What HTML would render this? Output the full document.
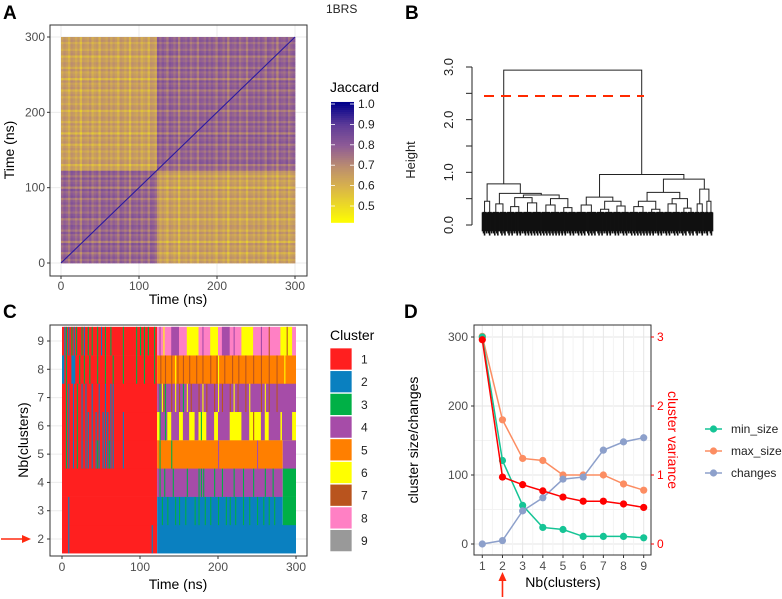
<!DOCTYPE html>
<html><head><meta charset="utf-8"><style>
body{margin:0;background:#fff;}
svg{display:block;font-family:"Liberation Sans",sans-serif;}
</style></head><body>
<svg id="fig" width="782" height="599" viewBox="0 0 782 599" xmlns="http://www.w3.org/2000/svg">
<rect x="0" y="0" width="782" height="599" fill="#fff"/>
<text x="3" y="19" font-size="19" font-weight="bold">A</text>
<text x="405" y="19" font-size="19" font-weight="bold">B</text>
<text x="3" y="318" font-size="19" font-weight="bold">C</text>
<text x="404" y="318" font-size="19" font-weight="bold">D</text>
<text x="326" y="13" font-size="12" fill="#222">1BRS</text>
<g id="pA"></g>
<g id="pB"></g>
<g id="pC"></g>
<g id="pD"></g>
</svg>
<script>
// ---------- DATA ----------
// Panel A
const blockBounds = [0, 122, 300];
const withinValue = 0.78;
const betweenValue = 0.65;
const rowNoise = [0.02,-0.05,0.04,0.0,-0.09,0.05,0.01,-0.03,0.06,-0.12,0.03,0.0,-0.04,0.05,-0.07,0.02,0.04,-0.02,0.0,-0.1,0.05,0.03,-0.05,0.01];
const colNoise = [-0.03,0.04,0.0,-0.08,0.05,0.02,-0.04,0.03,-0.11,0.04,0.01,-0.02,0.05,-0.06,0.0,0.03,-0.09,0.04,0.02,-0.03,0.05];
const noiseScale = 0.55;
const jaccardTicks = [0.5,0.6,0.7,0.8,0.9,1.0];
const timeTicks = [0,100,200,300];
// Panel B
const dendroTree = [2.94,
  [0.78, [0.45, 5, 5], [0.60, [0.40, 7, 7], [0.57, [0.52, [0.35, 8, 8], [0.42, 9, 9]], [0.50, [0.38, 9, 9], [0.33, 8, 8]]]]],
  [0.96, [0.53, [0.38, 10, 10], [0.45, [0.30, 8, 8], [0.36, 8, 8]]],
         [0.87, [0.62, [0.45, [0.35, 9, 9], [0.30, 8, 8]], [0.50, [0.40, 8, 8], [0.32, 7, 7]]], [0.68, [0.40, 5, 5], [0.45, 4, 4]]]]];
const cutHeight = 2.45;
const heightTicks = [0.0,0.5,1.0,1.5,2.0,2.5,3.0];
const heightLabels = ["0.0","","1.0","","2.0","","3.0"];
// Panel C
const clusterIds = [1,2,3,4,5,6,7,8,9];
const clusterRows = [2,3,4,5,6,7,8,9];
const rowSegs = {
  2: [[0,122,1],[122,300,2]],
  3: [[0,122,1],[122,283,2],[283,300,3]],
  4: [[0,122,1],[122,283,4],[283,300,3]],
  5: [[0,122,1],[122,283,5],[283,300,4]],
  6: [[0,122,1],[122,300,6],[125,135,4],[140,150,4],[155,163,4],[170,175,4],[185,195,4],[200,215,4],[230,240,4],[255,260,4],[265,280,4],[282,295,4]],
  7: [[0,122,1],[122,300,4]],
  8: [[0,122,1],[0,3,2],[12,17,2],[122,300,5]],
  9: [[0,122,1],[122,300,8],[160,175,6],[190,200,6],[230,245,6],[280,295,6],[205,215,4],[140,150,4]]
};
const rowStripes = {
  2: [[8,2],[115,2]],
  3: [[8,2],[128,3],[135,3],[145,3],[150,3],[158,3],[170,3],[175,3],[183,3],[190,3],[200,3],[210,3],[215,3],[222,3],[232,3],[240,3],[250,3],[258,3],[265,3],[272,3]],
  4: [[125,3],[131,3],[142,3],[160,3],[175,3],[178,3],[181,3],[195,3],[205,3],[220,3],[232,3],[245,3],[260,3],[270,3]],
  5: [[5,3],[8,2],[14,2],[19,3],[25,2],[30,2],[33,2],[38,2],[43,2],[45,3],[47,2],[52,2],[55,2],[58,2],[60,3],[62,2],[65,2],[78,2],[125,3],[140,3],[200,4],[250,4]],
  6: [[5,3],[8,2],[14,2],[19,3],[25,2],[30,2],[33,2],[38,2],[43,2],[47,2],[52,2],[55,2],[58,2],[62,2],[65,2],[78,2],[125,3],[132,3],[178,3],[245,7]],
  7: [[5,3],[8,2],[14,2],[19,3],[25,2],[30,2],[38,2],[47,2],[55,2],[62,2],[65,2],[125,3],[132,3],[155,3],[128,6],[145,6],[160,6],[180,6],[200,6],[220,6],[240,6],[260,6],[130,7],[140,7],[150,7],[165,7],[175,7],[185,7],[195,7],[205,7],[215,7],[225,7],[235,7],[255,7],[265,7],[275,7]],
  8: [[5,3],[22,3],[28,3],[35,3],[45,3],[55,3],[65,3],[78,3],[95,3],[105,3],[118,3],[126,7],[132,7],[140,7],[148,7],[155,7],[163,7],[172,7],[180,7],[190,7],[198,7],[208,7],[218,7],[226,7],[235,7],[245,7],[255,7],[265,7],[275,7],[145,6],[200,6],[285,6]],
  9: [[3,2],[5,3],[8,2],[12,3],[15,2],[18,3],[25,3],[28,2],[33,3],[38,3],[45,3],[50,2],[55,3],[62,3],[78,3],[95,3],[100,3],[105,3],[110,3],[118,3],[125,4],[130,6],[180,4],[220,4],[255,4],[265,7],[288,7]]
};
const clusterColors = ["#ff1f1f","#0a80c0","#00b046","#a64ca8","#ff7f00","#ffff00","#b9541e","#ff80c4","#999999"];
// Panel D
const nbClusters = [1,2,3,4,5,6,7,8,9];
const minSize = [300,121,56,24,21,11,11,11,9];
const maxSize = [301,180,124,121,100,100,100,87,78];
const changes = [0,5,48,67,94,97,136,148,154];
const variance = [2.96,0.97,0.86,0.77,0.68,0.62,0.62,0.58,0.53];
const leftTicks = [0,100,200,300];
const rightTicks = [0,1,2,3];
const seriesNames = ["min_size","max_size","changes"];
const seriesColors = ["#15c495","#fc8d62","#8da0cb"];

// ---------- HELPERS ----------
const NS = "http://www.w3.org/2000/svg";
function mk(tag, attrs, parent){ const e=document.createElementNS(NS,tag); for(const k in attrs) e.setAttribute(k,attrs[k]); parent.appendChild(e); return e; }
function txt(parent,x,y,s,size,fill,anchor,rot){ const t=mk('text',{x:x,y:y,'font-size':size,fill:fill,'text-anchor':anchor||'start'},parent); if(rot) t.setAttribute('transform','rotate('+rot+' '+x+' '+y+')'); t.textContent=s; return t; }
function hex(c){return [parseInt(c.slice(1,3),16),parseInt(c.slice(3,5),16),parseInt(c.slice(5,7),16)];}
const cStops=[[0.42,"#ffff00"],[0.6,"#d8b24c"],[0.7,"#ba8c70"],[0.8,"#8e5b96"],[0.9,"#5f3c98"],[1.01,"#00008b"]];
function jcol(v){ v=Math.max(0.42,Math.min(1.01,v)); for(let i=0;i<cStops.length-1;i++){ if(v<=cStops[i+1][0]){ const t=(v-cStops[i][0])/(cStops[i+1][0]-cStops[i][0]); const a=hex(cStops[i][1]),b=hex(cStops[i+1][1]); return 'rgb('+a.map((x,k)=>Math.round(x+(b[k]-x)*t)).join(',')+')'; } } return cStops[cStops.length-1][1]; }

// ---------- PANEL A ----------
(function(){
  const g=document.getElementById('pA');
  const X0=50,X1=307,Y0=25,Y1=276;
  const sx=t=>61+t*(295-61)/300, sy=t=>263-t*(263-37)/300;
  const frame=mk('rect',{x:X0,y:Y0,width:X1-X0,height:Y1-Y0,fill:'#fff'},g);
   
  timeTicks.forEach(t=>{
    mk('line',{x1:sx(t),x2:sx(t),y1:Y0,y2:Y1,stroke:'#ebebeb','stroke-width':1},g);
    mk('line',{y1:sy(t),y2:sy(t),x1:X0,x2:X1,stroke:'#ebebeb','stroke-width':1},g);
  });
  const n=100, step=300/n;
  const cells=mk('g',{},g);  
  function blk(t){return t<blockBounds[1]?0:1;}
  for(let i=0;i<n;i++){ for(let j=0;j<n;j++){
    const tx=i*step, ty=j*step;
    let v=(blk(tx+step/2)===blk(ty+step/2))?withinValue:betweenValue;
    v+=noiseScale*(colNoise[i%colNoise.length]+rowNoise[j%rowNoise.length]);
    const r=mk('rect',{x:sx(tx),y:sy(ty+step),width:sx(step)-sx(0)+0.4,height:sy(0)-sy(step)+0.4,fill:jcol(v)},cells);
    
    
  }}
  const d=mk('line',{x1:sx(0),y1:sy(0),x2:sx(300),y2:sy(300),stroke:'#2a1aa0','stroke-width':1.1},g);
   
  mk('rect',{x:X0,y:Y0,width:X1-X0,height:Y1-Y0,fill:'none',stroke:'#333','stroke-width':1},g);
  timeTicks.forEach(t=>{
    mk('line',{x1:sx(t),x2:sx(t),y1:Y1,y2:Y1+3,stroke:'#333'},g);
    const a=txt(g,sx(t),Y1+14,String(t),12,'#4d4d4d','middle');  
    mk('line',{x1:X0-3,x2:X0,y1:sy(t),y2:sy(t),stroke:'#333'},g);
    const b=txt(g,X0-5,sy(t)+4,String(t),12,'#4d4d4d','end');  
  });
  const xt=txt(g,178,304,'Time (ns)',14,'#000','middle');  
  const yt=txt(g,14,150,'Time (ns)',14,'#000','middle',-90);  
  const lt=txt(g,330,92,'Jaccard',14,'#000');  
  const ly=v=>104+(1.0-v)*204;
  const lg=mk('g',{},g);  
  for(let k=0;k<60;k++){ const v0=1.01-k*(0.59/60); mk('rect',{x:331,y:ly(v0),width:23,height:0.59/60*204+0.5,fill:jcol(v0)},lg); }
  jaccardTicks.forEach(v=>{
    mk('line',{x1:331,x2:335,y1:ly(v),y2:ly(v),stroke:'#fff','stroke-width':0.8},lg);
    mk('line',{x1:350,x2:354,y1:ly(v),y2:ly(v),stroke:'#fff','stroke-width':0.8},lg);
    const l=txt(g,358,ly(v)+4,v.toFixed(1),12,'#222');  
  });
})();

// ---------- PANEL B ----------
(function(){
  const g=document.getElementById('pB');
  g.setAttribute('transform','translate(400,0)');
  const sy=h=>225-h*(225-67)/3;
  const xL=82,xR=313;
  function count(n){return typeof n==='number'?n:count(n[1])+count(n[2]);}
  const total=count(dendroTree);
  const ux=(xR-xL)/total;
  let cursor=0;
  function draw(n){
    if(typeof n==='number'){
      const x0=xL+cursor*ux, w=n*ux; cursor+=n;
      const c=mk('g',{},g);  
      mk('line',{x1:x0+0.5,x2:x0+w-0.5,y1:sy(0.24),y2:sy(0.24),stroke:'#111','stroke-width':1},c);
      mk('line',{x1:x0+1,x2:x0+w-1,y1:sy(0.14),y2:sy(0.14),stroke:'#111','stroke-width':1.2},c);
      for(let i=0;i<n;i++){ const xx=x0+(i+0.5)*ux; mk('line',{x1:xx,x2:xx,y1:sy(0.24),y2:sy(-0.12-(i%3)*0.04),stroke:'#111','stroke-width':1.6},c); }
      return {x:x0+w/2,h:0.24};
    }
    const a=draw(n[1]), b=draw(n[2]), h=n[0];
    const p=mk('path',{d:'M'+a.x+' '+sy(a.h)+'V'+sy(h)+'H'+b.x+'V'+sy(b.h),fill:'none',stroke:'#222','stroke-width':1},g);
     
    return {x:(a.x+b.x)/2,h:h};
  }
  draw(dendroTree);
  const ax=mk('g',{},g);  
  mk('line',{x1:72,x2:72,y1:sy(0),y2:sy(3),stroke:'#222'},ax);
  heightTicks.forEach((h,i)=>{
    mk('line',{x1:66,x2:72,y1:sy(h),y2:sy(h),stroke:'#222'},ax);
    if(heightLabels[i]){ const t=txt(g,53,sy(h),heightLabels[i],13,'#222','middle',-90);   }
  });
  const yt=txt(g,15,160,'Height',13,'#222','middle',-90);
   
  const cut=mk('line',{x1:84,x2:244,y1:sy(cutHeight),y2:sy(cutHeight),stroke:'#ff2a00','stroke-width':2,'stroke-dasharray':'10,7'},g);
   
})();

// ---------- PANEL C ----------
(function(){
  const g=document.getElementById('pC');
  const X0=50,X1=307,Y0=325,Y1=556;
  const sx=t=>62+t*(296-62)/300, sy=r=>539-(r-2)*(539-341)/7;
  mk('rect',{x:X0,y:Y0,width:X1-X0,height:Y1-Y0,fill:'#fff'},g);
  clusterRows.forEach(r=>mk('line',{x1:X0,x2:X1,y1:sy(r),y2:sy(r),stroke:'#ebebeb'},g));
  clusterRows.forEach(r=>{
    const rg=mk('g',{},g);  
    const yTop=sy(r+0.5), hh=sy(r-0.5)-sy(r+0.5)+0.3;
    rowSegs[r].forEach(s=>{
      const e=mk('rect',{x:sx(s[0]),y:yTop,width:sx(s[1])-sx(s[0]),height:hh,fill:clusterColors[s[2]-1]},rg);
       
    });
    rowStripes[r].forEach(s=>{
      const e=mk('rect',{x:sx(s[0]),y:yTop,width:sx(1.4)-sx(0),height:hh,fill:clusterColors[s[1]-1]},rg);
       
    });
  });
  mk('rect',{x:X0,y:Y0,width:X1-X0,height:Y1-Y0,fill:'none',stroke:'#333'},g);
  clusterRows.forEach(r=>{
    mk('line',{x1:X0-3,x2:X0,y1:sy(r),y2:sy(r),stroke:'#333'},g);
    const t=txt(g,X0-6,sy(r)+4,String(r),12,'#4d4d4d','end');  
  });
  timeTicks.forEach(t=>{
    mk('line',{x1:sx(t),x2:sx(t),y1:Y1,y2:Y1+3,stroke:'#333'},g);
    const a=txt(g,sx(t),Y1+15,String(t),12,'#4d4d4d','middle');  
  });
  const xt=txt(g,178,589,'Time (ns)',14,'#000','middle');  
  const yt=txt(g,28,440,'Nb(clusters)',14,'#000','middle',-90);  
  const ar=mk('g',{},g);  
  mk('line',{x1:1,x2:24,y1:539,y2:539,stroke:'#ff2a10','stroke-width':1.6},ar);
  mk('polygon',{points:'31,539 22,535 22,543',fill:'#ff2a10'},ar);
  const lt=txt(g,330,340,'Cluster',14,'#000');  
  clusterIds.forEach((c,i)=>{
    const y=348+i*22.7;
    const s=mk('rect',{x:330,y:y,width:22,height:22,fill:clusterColors[i],stroke:'#fff','stroke-width':0.7},g);
     
    const l=txt(g,361,y+15.5,String(c),12,'#222');  
  });
})();

// ---------- PANEL D ----------
(function(){
  const g=document.getElementById('pD');
  const X0=474,X1=651,Y0=325,Y1=555;
  const sx=k=>482.3+(k-1)*(643.7-482.3)/8, sy=v=>544-v*(544-337)/300, sv=v=>544-v*(544-337)/3;
  mk('rect',{x:X0,y:Y0,width:X1-X0,height:Y1-Y0,fill:'#fff'},g);
  for(let v=50;v<=300;v+=100) mk('line',{x1:X0,x2:X1,y1:sy(v),y2:sy(v),stroke:'#f3f3f3'},g);
  leftTicks.forEach(v=>mk('line',{x1:X0,x2:X1,y1:sy(v),y2:sy(v),stroke:'#e6e6e6'},g));
  nbClusters.forEach(k=>{ mk('line',{x1:sx(k),x2:sx(k),y1:Y0,y2:Y1,stroke:'#e6e6e6'},g); if(k<9) mk('line',{x1:sx(k+0.5),x2:sx(k+0.5),y1:Y0,y2:Y1,stroke:'#f3f3f3'},g); });
  function series(vals,scale,color,name){
    const sg=mk('g',{},g);  
    const p=mk('polyline',{points:vals.map((v,i)=>sx(nbClusters[i])+','+scale(v)).join(' '),fill:'none',stroke:color,'stroke-width':1.5},sg);
     
    vals.forEach((v,i)=>{ const c=mk('circle',{cx:sx(nbClusters[i]),cy:scale(v),r:3.6,fill:color},sg);   });
  }
  series(maxSize,sy,seriesColors[1],'max_size');
  series(minSize,sy,seriesColors[0],'min_size');
  series(changes,sy,seriesColors[2],'changes');
  series(variance,sv,'#ff0000','variance');
  mk('rect',{x:X0,y:Y0,width:X1-X0,height:Y1-Y0,fill:'none',stroke:'#333'},g);
  leftTicks.forEach(v=>{
    mk('line',{x1:X0-3,x2:X0,y1:sy(v),y2:sy(v),stroke:'#333'},g);
    const t=txt(g,X0-6,sy(v)+4,String(v),12,'#4d4d4d','end');  
  });
  rightTicks.forEach(v=>{
    mk('line',{x1:X1,x2:X1+3,y1:sv(v),y2:sv(v),stroke:'#ff0000'},g);
    const t=txt(g,X1+6,sv(v)+4,String(v),12,'#ff0000');  
  });
  nbClusters.forEach(k=>{
    mk('line',{x1:sx(k),x2:sx(k),y1:Y1,y2:Y1+3,stroke:'#333'},g);
    const t=txt(g,sx(k),Y1+15,String(k),12,'#4d4d4d','middle');  
  });
  const xt=txt(g,563,587,'Nb(clusters)',14,'#000','middle');  
  const yl=txt(g,418,440,'cluster size/changes',14,'#000','middle',-90);  
  const yr=txt(g,668,440,'cluster variance',14,'#ff0000','middle',90);  
  const ar=mk('g',{},g);  
  mk('line',{x1:sx(2),x2:sx(2),y1:597,y2:579,stroke:'#ff2a10','stroke-width':1.6},ar);
  mk('polygon',{points:sx(2)+',572 '+(sx(2)-4)+',581 '+(sx(2)+4)+',581',fill:'#ff2a10'},ar);
  seriesNames.forEach((nm,i)=>{
    const y=429+i*22;
    const lg=mk('g',{},g);  
    mk('line',{x1:705,x2:722,y1:y,y2:y,stroke:seriesColors[i],'stroke-width':1.5},lg);
    mk('circle',{cx:713.5,cy:y,r:3.6,fill:seriesColors[i]},lg);
    txt(lg,731,y+4,nm,12,'#222');
  });
})();
</script>
</body></html>
